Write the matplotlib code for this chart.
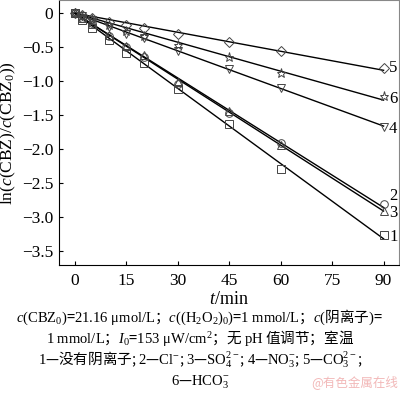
import matplotlib
matplotlib.use("Agg")
import matplotlib.pyplot as plt
import numpy as np

plt.rcParams['font.family'] = ['Liberation Serif', 'Noto Sans CJK SC', 'DejaVu Serif']
plt.rcParams['mathtext.fontset'] = 'custom'
plt.rcParams['mathtext.rm'] = 'Liberation Serif'
plt.rcParams['mathtext.it'] = 'Liberation Serif:italic'
plt.rcParams['mathtext.bf'] = 'Liberation Serif:bold'

# reaction time, min
t = [0, 2, 5, 10, 15, 20, 30, 45, 60, 90]

# ln(c/c0) for each anion
no_anion = [0, -0.10, -0.22, -0.40, -0.58, -0.74, -1.11, -1.64, -2.30, -3.27]
cl = [0, -0.07, -0.15, -0.33, -0.50, -0.64, -1.04, -1.47, -1.91, -2.81]
so4 = [0, -0.07, -0.16, -0.32, -0.48, -0.62, -1.02, -1.44, -1.94, -2.92]
no3 = [0, -0.04, -0.10, -0.20, -0.30, -0.37, -0.55, -0.82, -1.10, -1.67]
co3 = [0, -0.03, -0.07, -0.13, -0.18, -0.22, -0.30, -0.43, -0.56, -0.81]
hco3 = [0, -0.04, -0.08, -0.17, -0.26, -0.34, -0.47, -0.65, -0.88, -1.22]

series = [
    ('1', no_anion, 's', -3.30),
    ('2', cl, 'o', -2.69),
    ('3', so4, '^', -2.95),
    ('4', no3, 'v', -1.70),
    ('5', co3, 'D', -0.81),
    ('6', hco3, '*', -1.27),
]

fig = plt.figure(figsize=(4.0, 3.93), dpi=100)
ax = fig.add_axes([0.1475, 0.326, 0.85, 0.673])

tt = np.array(t, dtype=float)
for name, vals, mk, ylab in series:
    y = np.array(vals)
    k = np.sum(tt * y) / np.sum(tt * tt)
    ax.plot([0, 90], [0, k * 90], color='black', lw=1.0, zorder=2)
    ms = {'*': 6.5, 'D': 5}.get(mk, 5.5)
    ax.plot(t, vals, linestyle='none', marker=mk, ms=ms, mfc='none',
            mec='#444444', mew=0.7, zorder=3)
    ax.text(91.6, ylab, name, fontsize=12, va='center', ha='left')

ax.set_xlim(-4.66, 94.5)
ax.set_ylim(-3.71, 0.19)
ax.set_xticks([0, 15, 30, 45, 60, 75, 90])
ax.set_yticks([0, -0.5, -1.0, -1.5, -2.0, -2.5, -3.0, -3.5])
ax.set_yticklabels(['0', '\u22120.5', '\u22121.0', '\u22121.5', '\u22122.0',
                    '\u22122.5', '\u22123.0', '\u22123.5'])
ax.tick_params(direction='in', length=3, width=0.8, labelsize=12.5, pad=4)
ax.tick_params(axis='x', pad=6)
for sp in ['top', 'right']:
    ax.spines[sp].set_color('#888888')
ax.set_xlabel(r'$t$/min', fontsize=13, labelpad=1)
ax.set_ylabel(r'ln($c$(CBZ)/$c$(CBZ$_0$))', fontsize=12.5, labelpad=0)
ax.yaxis.set_label_coords(-0.12, 0.5)

cap = dict(fontsize=10.5, ha='center', va='center', family=['Noto Sans CJK SC'])
fig.text(0.5, 0.193, r'$c\mathrm{(CBZ_0)}$=$\mathrm{21.16\ \mu mol/L}$；'
         r'$c\mathrm{((H_2O_2)_0)}$=$\mathrm{1\ mmol/L}$；$c\mathrm{(}$阴离子$\mathrm{)}$=', **cap)
fig.text(0.5, 0.140, r'$\mathrm{1\ mmol/L}$；$I_0$=$\mathrm{153\ \mu W/cm^2}$；'
         r'无 $\mathrm{pH}$ 值调节；室温', **cap)
fig.text(0.5, 0.084, r'$\mathrm{1}$—没有阴离子; $\mathrm{2}$—$\mathrm{Cl^{-}}$; '
         r'$\mathrm{3}$—$\mathrm{SO_4^{2-}}$; $\mathrm{4}$—$\mathrm{NO_3^{-}}$; '
         r'$\mathrm{5}$—$\mathrm{CO_3^{2-}}$;', **cap)
fig.text(0.5, 0.028, r'$\mathrm{6}$—$\mathrm{HCO_3^{-}}$', **cap)

fig.text(0.995, 0.028, '@有色金属在线', fontsize=9, color='#f2b8b8',
         ha='right', va='center', family=['Noto Sans CJK SC'])

fig.savefig('out.png', dpi=100)
